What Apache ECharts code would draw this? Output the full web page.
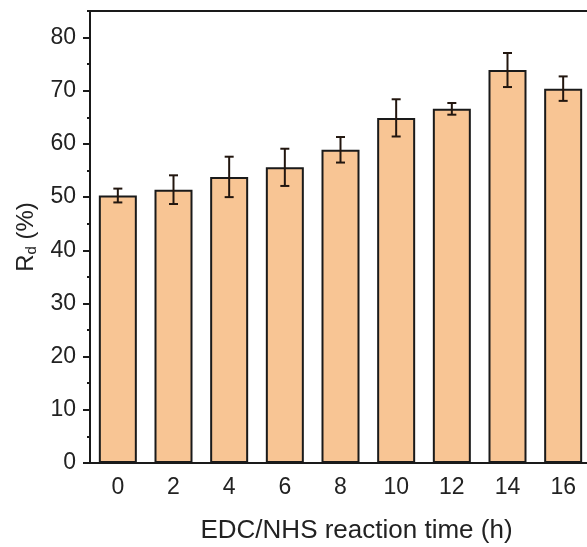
<!DOCTYPE html>
<html>
<head>
<meta charset="utf-8">
<script src="https://cdn.jsdelivr.net/npm/echarts@6/dist/echarts.min.js"></script>
<style>
  html, body { margin: 0; padding: 0; background: #fff; }
  #chart { width: 587px; height: 547px; }
</style>
</head>
<body>
<div id="chart"></div>
<script>
// reaction time (h)
const times = ['0', '2', '4', '6', '8', '10', '12', '14', '16'];
// Rd (%) mean and error
const means = [50.3, 51.4, 53.8, 55.6, 58.9, 64.9, 66.6, 73.9, 70.4];
const errors = [1.3, 2.7, 3.8, 3.5, 2.4, 3.5, 1.1, 3.2, 2.3];
const majorTicks = [0, 10, 20, 30, 40, 50, 60, 70, 80];

const font = 'Liberation Sans, Arial, sans-serif';
const ink = '#1a1a1a';
const gridLeft = 90;
const gridRight = -4;

let errData = [];
for (let i = 0; i < means.length; i++) {
    errData.push([i, means[i] - errors[i], means[i] + errors[i]]);
}

let chart = echarts.init(document.getElementById('chart'));
// second y axis is pushed to the right by echarts, so pull it back onto the left edge
let plotWidth = chart.getWidth() - gridLeft - gridRight;

chart.setOption({
    animation: false,
    grid: {
        left: gridLeft,
        top: 11,
        right: gridRight,
        bottom: 84,
        containLabel: false,
        outerBoundsMode: 'none'
    },
    xAxis: [
        {
            type: 'category',
            data: times,
            position: 'bottom',
            axisLine: { show: true, lineStyle: { color: ink, width: 2 } },
            axisTick: { alignWithLabel: true, length: 5, lineStyle: { color: ink, width: 2 } },
            axisLabel: { fontFamily: font, fontSize: 23, color: '#222', margin: 13 },
            name: 'EDC/NHS reaction time (h)',
            nameLocation: 'middle',
            nameGap: 55,
            nameTextStyle: { fontFamily: font, fontSize: 26, color: '#222', padding: [0, 0, 0, 32] }
        },
        {
            type: 'category',
            data: times,
            position: 'top',
            axisLine: { show: true, onZero: false, lineStyle: { color: ink, width: 2 } },
            axisTick: { show: false },
            axisLabel: { show: false }
        }
    ],
    yAxis: [
        {
            type: 'value',
            min: 0,
            max: 85,
            interval: 5,
            position: 'left',
            axisLine: { show: true, lineStyle: { color: ink, width: 2 } },
            axisTick: { show: true, length: 3, lineStyle: { color: ink, width: 2 } },
            splitLine: { show: false },
            axisLabel: {
                fontFamily: font, fontSize: 23, color: '#222', margin: 14,
                formatter: function (v) { return v % 10 === 0 && v <= 80 ? String(v) : ''; }
            },
            name: 'R{sub|d} (%)',
            nameLocation: 'middle',
            nameRotate: 90,
            nameGap: 50,
            nameTextStyle: {
                fontFamily: font, fontSize: 24, color: '#222',
                rich: {
                    sub: { fontFamily: font, fontSize: 15, color: '#222', verticalAlign: 'bottom', padding: [12, 0, 0, 0] }
                }
            }
        },
        {
            type: 'value',
            min: 0,
            max: 85,
            interval: 10,
            position: 'right',
            offset: -plotWidth,
            axisLine: { show: false },
            axisTick: { show: true, inside: true, length: 7, customValues: majorTicks, lineStyle: { color: ink, width: 2 } },
            axisLabel: { show: false },
            splitLine: { show: false }
        }
    ],
    series: [
        {
            name: 'Rd',
            type: 'bar',
            data: means,
            barWidth: 38,
            itemStyle: { color: '#F8C594', borderColor: ink, borderWidth: 2 }
        },
        {
            name: 'error',
            type: 'custom',
            data: errData,
            z: 10,
            renderItem: function (params, api) {
                let x = api.value(0);
                let lo = api.coord([x, api.value(1)]);
                let hi = api.coord([x, api.value(2)]);
                let half = 4.5;
                let style = { stroke: '#22160f', lineWidth: 2 };
                return {
                    type: 'group',
                    children: [
                        { type: 'line', shape: { x1: lo[0], y1: lo[1], x2: hi[0], y2: hi[1] }, style: style },
                        { type: 'line', shape: { x1: lo[0] - half, y1: lo[1], x2: lo[0] + half, y2: lo[1] }, style: style },
                        { type: 'line', shape: { x1: hi[0] - half, y1: hi[1], x2: hi[0] + half, y2: hi[1] }, style: style }
                    ]
                };
            }
        }
    ]
});
</script>
</body>
</html>
